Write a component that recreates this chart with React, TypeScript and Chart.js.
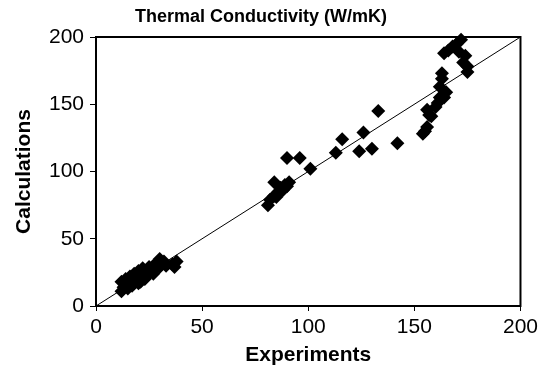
import React, { useEffect, useRef } from "react";
import { Chart, registerables } from "chart.js";

Chart.register(...registerables);

const chartTitle = "Thermal Conductivity (W/mK)";
const xTitle = "Experiments";
const yTitle = "Calculations";

const expX = [
  12, 13, 12, 14, 14, 15, 16, 16, 17, 17, 18, 18, 19, 20, 20, 20, 21, 21, 22, 22,
  23, 23, 24, 25, 25, 26, 27, 27, 28, 29, 30, 30, 31, 32, 33, 37, 38, 36,
  81, 82, 84, 85, 86, 87, 88, 84, 90, 91, 89,
  90, 96, 101, 113, 116, 124, 126, 130, 133, 142,
  154, 155, 156, 157, 156, 158, 160, 161, 162, 164, 165, 162, 163, 163,
  164, 166, 168, 170, 172, 171, 173, 174, 175, 175,
];
const calcY = [
  11, 14, 18, 16, 20, 13, 18, 22, 15, 20, 24, 17, 21, 17, 19, 26, 23, 18, 28, 22,
  25, 20, 27, 24, 29, 26, 30, 24, 28, 32, 35, 29, 31, 33, 30, 29, 33, 31,
  75, 79, 82, 81, 85, 88, 86, 92, 89, 92, 90,
  110, 110, 102, 114, 124, 115, 129, 117, 145, 121,
  128, 130, 133, 142, 146, 141, 148, 151, 155, 155, 159, 163, 169, 173,
  188, 190, 193, 195, 198, 189, 181, 186, 174, 178,
];
const parityLine = [0, 200];

const FONT = "'Liberation Sans', Arial, Helvetica, sans-serif";

export default function App() {
  const ref = useRef<HTMLCanvasElement | null>(null);
  useEffect(() => {
    document.body.style.margin = "0";
    if (!ref.current) return;
    const framePlugin = {
      id: "frame",
      beforeDatasetsDraw(chart: any) {
        const { ctx, chartArea } = chart;
        ctx.save();
        ctx.strokeStyle = "#000";
        ctx.lineWidth = 2;
        ctx.strokeRect(chartArea.left, chartArea.top, chartArea.right - chartArea.left, chartArea.bottom - chartArea.top);
        ctx.restore();
      },
    };
    const chart = new Chart(ref.current, {
      type: "scatter",
      data: {
        datasets: [
          {
            type: "line",
            data: parityLine.map((v) => ({ x: v, y: v })),
            borderColor: "#000",
            borderWidth: 1,
            pointRadius: 0,
            fill: false,
          } as any,
          {
            data: expX.map((x, i) => ({ x, y: calcY[i] })),
            backgroundColor: "#000",
            borderColor: "#000",
            pointStyle: "rectRot",
            pointRadius: 7,
            borderWidth: 0,
            clip: false,
          } as any,
        ],
      },
      options: {
        animation: false,
        responsive: true,
        maintainAspectRatio: false,
        layout: { padding: { left: 0, right: 20, top: 0, bottom: 0 } },
        plugins: {
          legend: { display: false },
          tooltip: { enabled: false },
          title: {
            display: true,
            text: chartTitle,
            color: "#000",
            font: { family: FONT, size: 18, weight: "bold" },
            padding: { top: 6, bottom: 9.4 },
          },
        },
        scales: {
          x: {
            type: "linear",
            min: 0,
            max: 200,
            ticks: { stepSize: 50, color: "#000", font: { family: FONT, size: 21 }, padding: 4 },
            grid: { drawOnChartArea: false, drawTicks: true, tickLength: 5, color: "#000" },
            border: { display: true, color: "#000", width: 2 },
            title: { display: true, text: xTitle, color: "#000", font: { family: FONT, size: 21, weight: "bold" }, padding: { top: 0, bottom: 7 } },
            afterFit: (s: any) => { s.height = 69; },
          },
          y: {
            type: "linear",
            min: 0,
            max: 200,
            ticks: { stepSize: 50, color: "#000", font: { family: FONT, size: 21 }, padding: 6 },
            grid: { drawOnChartArea: false, drawTicks: true, tickLength: 6, color: "#000" },
            border: { display: true, color: "#000", width: 2 },
            title: { display: true, text: yTitle, color: "#000", font: { family: FONT, size: 21, weight: "bold" }, padding: { top: 12, bottom: 0 } },
            afterFit: (s: any) => { s.width = 96; },
          },
        },
      },
      plugins: [framePlugin],
    });
    return () => chart.destroy();
  }, []);
  return (
    <div style={{ position: "fixed", left: 0, top: 0, width: 542, height: 375, background: "#fff" }}>
      <canvas ref={ref} />
    </div>
  );
}
